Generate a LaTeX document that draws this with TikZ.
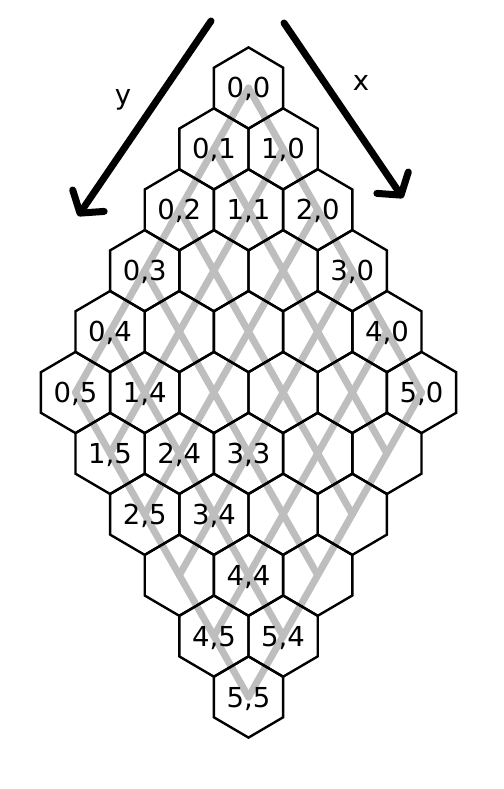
\documentclass[tikz,border=0pt]{standalone}
\usepackage{fontspec}
\setmainfont{DejaVu Sans}
\usetikzlibrary{arrows.meta}
\definecolor{lanegrey}{HTML}{BEBEBE}

\begin{document}
\begin{tikzpicture}[
  x=1pt, y=-1pt,
  every node/.style={font=\fontsize{27.5}{31}\selectfont, inner sep=0pt},
  cell/.style={line width=2.4pt, black, line join=miter},
  lane/.style={line width=7pt, lanegrey, line cap=round, line join=round},
  axisarrow/.style={line width=7pt, black, line cap=round,
    -{Straight Barb[length=15pt, width=38pt, line cap=round, line join=round]}},
  celllabel/.style={anchor=base, yshift=-10pt}
]

\useasboundingbox (0,0) rectangle (503,789);

%% Cell centres: cell (i,j) sits in column i-j, row i+j
\foreach \i in {0,...,5} {
  \foreach \j in {0,...,5} {
    \coordinate (c-\i-\j) at ({248.5+(\i-\j)*34.6}, {88+(\i+\j)*60.9});
  }
}

%% Grey lanes through the cell centres (one per row of each axis)
\foreach \k in {0,...,5} {
  \draw[lane] (c-0-\k) -- (c-5-\k);
  \draw[lane] (c-\k-0) -- (c-\k-5);
}

%% Hexagon outlines
\foreach \i in {0,...,5} {
  \foreach \j in {0,...,5} {
    \draw[cell] (c-\i-\j) ++(0,-40.6) -- ++(34.6,20.3) -- ++(0,40.6)
      -- ++(-34.6,20.3) -- ++(-34.6,-20.3) -- ++(0,-40.6) -- cycle;
  }
}

%% Cell labels
\foreach \i/\j in {0/0, 0/1, 1/0, 0/2, 1/1, 2/0, 0/3, 3/0, 0/4, 4/0,
                   0/5, 1/4, 5/0, 1/5, 2/4, 3/3, 2/5, 3/4, 4/4, 4/5, 5/4, 5/5} {
  \node[celllabel] (l-\i-\j) at (c-\i-\j) {\i,\j};
}

%% Axis arrows
\coordinate (ystart) at (211,21);
\coordinate (yend) at (78,216);
\coordinate (xstart) at (284,23);
\coordinate (xend) at (403,198);

\draw[axisarrow] (ystart) -- (yend);
\draw[axisarrow] (xstart) -- (xend);

\node[anchor=base] (ylabel) at (123,105) {y};
\node[anchor=base] (xlabel) at (361,91) {x};

\end{tikzpicture}
\end{document}
